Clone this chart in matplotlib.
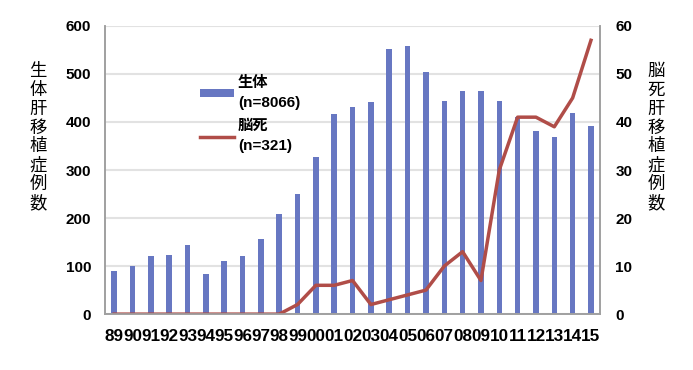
import numpy as np
import matplotlib.pyplot as plt

plt.rcParams['font.family'] = ['Liberation Sans', 'Noto Sans CJK JP', 'DejaVu Sans']

years = ['89', '90', '91', '92', '93', '94', '95', '96', '97', '98', '99', '00', '01',
         '02', '03', '04', '05', '06', '07', '08', '09', '10', '11', '12', '13', '14', '15']
living = [90, 100, 121, 123, 144, 83, 111, 120, 157, 208, 250, 328, 416,
          432, 441, 551, 559, 505, 444, 465, 465, 444, 411, 381, 369, 419, 392]
deceased = [0, 0, 0, 0, 0, 0, 0, 0, 0, 0, 2, 6, 6,
            7, 2, 3, 4, 5, 10, 13, 7, 30, 41, 41, 39, 45, 57]

bar_color = '#6777c2'
line_color = '#b04d48'
spine_color = '#a0a0a0'

fig, ax1 = plt.subplots(figsize=(6.93, 3.70), dpi=100)
fig.subplots_adjust(left=0.1515, right=0.866, top=0.93, bottom=0.151)

x = np.arange(len(years))
b = ax1.bar(x, living, width=0.3, color=bar_color, zorder=2)
ax1.set_ylim(0, 600)
ax1.set_yticks(range(0, 601, 100))
ax1.set_xlim(-0.5, len(years) - 0.5)
ax1.set_xticks(x)
ax1.set_xticklabels(years)
ax1.grid(axis='y', color='#e2e2e2', linewidth=1.5, zorder=0)
ax1.set_axisbelow(True)
ax1.tick_params(axis='both', length=0)
ax1.tick_params(axis='y', pad=10, labelsize=11)
ax1.tick_params(axis='x', pad=11, labelsize=12.3)
for lbl in ax1.get_xticklabels() + ax1.get_yticklabels():
    lbl.set_fontweight('bold')

ax2 = ax1.twinx()
ln, = ax2.plot(x, deceased, color=line_color, linewidth=2.5)
ax2.set_ylim(0, 60)
ax2.set_yticks(range(0, 61, 10))
ax2.tick_params(axis='y', length=0, labelsize=11, pad=11)
for lbl in ax2.get_yticklabels():
    lbl.set_fontweight('bold')

for a in (ax1, ax2):
    for s in a.spines.values():
        s.set_color(spine_color)
        s.set_linewidth(1.2)
ax1.spines['top'].set_visible(False)
ax2.spines['top'].set_visible(False)

fig.text(0.055, 0.630, '\n'.join('生体肝移植症例数'), ha='center', va='center',
         fontsize=12.5, linespacing=1.06, family=['Noto Sans CJK JP'])
fig.text(0.947, 0.630, '\n'.join('脳死肝移植症例数'), ha='center', va='center',
         fontsize=12.5, linespacing=1.06, family=['Noto Sans CJK JP'])

leg = ax1.legend([b, ln], ['生体\n(n=8066)', '脳死\n(n=321)'], loc='upper left',
                 bbox_to_anchor=(0.165, 0.875), frameon=False,
                 handlelength=2.2, handleheight=0.5, labelspacing=0.55,
                 handletextpad=0.25, prop={'weight': 'bold', 'size': 11})
for t in leg.get_texts():
    t.set_linespacing(1.6)
leg.set_zorder(5)

fig.savefig('out.png', dpi=100)
